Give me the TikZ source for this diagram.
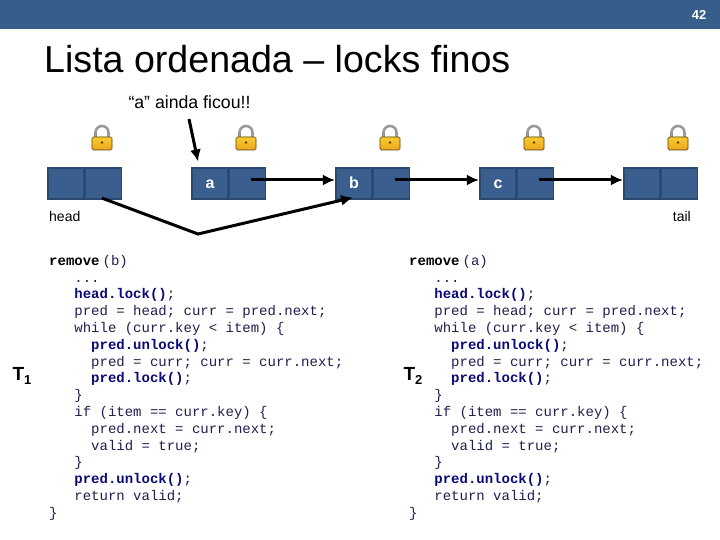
\documentclass[tikz,border=0pt]{standalone}
\usepackage{fontspec}
\setmainfont{Liberation Sans}
\setmonofont{Liberation Mono}
\usepackage{xcolor}
\usetikzlibrary{arrows.meta,positioning,calc}

\definecolor{slideblue}{RGB}{55,93,138}
\definecolor{cellblue}{RGB}{58,95,142}
\definecolor{celledge}{RGB}{42,72,112}
\definecolor{lockgold}{RGB}{250,205,50}
\definecolor{lockorange}{RGB}{235,165,25}
\definecolor{lockdark}{RGB}{90,60,10}
\definecolor{codenavy}{RGB}{10,10,120}
\definecolor{codegray}{RGB}{30,30,80}

\newcommand{\indA}{\hspace*{25.2pt}}
\newcommand{\indB}{\hspace*{42pt}}
\newcommand{\kw}[1]{\textcolor{codenavy}{\bfseries #1}}
\newcommand{\removecode}[1]{%
  \textcolor{black}{\bfseries remove}\hspace{3pt}(#1)\\
  \indA...\\
  \indA\kw{head.lock()};\\
  \indA pred = head; curr = pred.next;\\
  \indA while (curr.key < item) \{\\
  \indB\kw{pred.unlock()};\\
  \indB pred = curr; curr = curr.next;\\
  \indB\kw{pred.lock()};\\
  \indA\}\\
  \indA if (item == curr.key) \{\\
  \indB pred.next = curr.next;\\
  \indB valid = true;\\
  \indA\}\\
  \indA\kw{pred.unlock()};\\
  \indA return valid;\\
  \}}

\begin{document}
\begin{tikzpicture}[
    x=1pt,y=-1pt,
    >={Latex[length=12pt,width=11pt]},
    link/.style={->,line width=3pt,draw=black},
    cellbox/.style={draw=celledge,fill=cellblue,line width=1.6pt,
      minimum width=36.5pt,minimum height=31.5pt,inner sep=0pt,
      text height=11pt,text depth=0pt,
      text=white,font=\fontsize{16}{18}\selectfont\bfseries},
    code/.style={anchor=north west,align=left,inner sep=0pt,text=codegray,
      font=\fontsize{14}{16.8}\ttfamily},
    caption/.style={inner sep=0pt,font=\fontsize{14}{16}\selectfont},
    threadname/.style={inner sep=0pt,font=\fontsize{19}{21}\selectfont\bfseries},
    lockpic/.pic={
      \draw[draw=gray!80,line width=2.6pt] (-6.5,5) -- (-6.5,-0.5)
        arc[start angle=180,end angle=360,radius=6.5] -- (6.5,5);
      \draw[draw=lockdark,top color=lockgold,bottom color=lockorange,line width=0.7pt,rounded corners=1.5pt]
        (-10,4) rectangle (10,17);
      \fill[lockdark] (0,9.5) circle[radius=1.3];
    }
  ]
    \useasboundingbox (0,0) rectangle (720,540);
    \fill[slideblue] (0,0) rectangle (720,29);
    \node[inner sep=0pt,text=white,font=\fontsize{13}{15}\selectfont\bfseries] (pagenum) at (699,14.5) {42};
    \node[anchor=west,inner sep=0pt,font=\fontsize{37.6}{40}\selectfont] (title) at (44,59) {Lista ordenada -- locks finos};
    \node[inner sep=0pt,font=\fontsize{17.7}{20}\selectfont] (remark) at (189.5,102) {“a” ainda ficou!!};

    % locks
    \pic at (102,133) {lockpic};
    \pic at (246,133) {lockpic};
    \pic at (390,133) {lockpic};
    \pic at (534,133) {lockpic};
    \pic at (678,133) {lockpic};

    % list nodes
    \node[cellbox] (headkey) at (66,183.5) {};
    \node[cellbox,right=-0.8pt of headkey] (headnext) {};
    \node[cellbox] (akey) at (210,183.5) {a};
    \node[cellbox,right=-0.8pt of akey] (anext) {};
    \node[cellbox] (bkey) at (354,183.5) {b};
    \node[cellbox,right=-0.8pt of bkey] (bnext) {};
    \node[cellbox] (ckey) at (498,183.5) {c};
    \node[cellbox,right=-0.8pt of ckey] (cnext) {};
    \node[cellbox] (tailkey) at (642,183.5) {};
    \node[cellbox,right=-0.8pt of tailkey] (tailnext) {};

    \node[caption,anchor=west] (headname) at (49,216) {head};
    \node[caption,anchor=east] (tailname) at (691,216) {tail};

    % links
    \coordinate (bend) at (198,234);
    \coordinate (remarkstart) at (189,119);
    \draw[link] ([shift={(4,-3.5)}]anext.center) -- (bkey.west |- 0,180);
    \draw[link] ([shift={(4,-3.5)}]bnext.center) -- (ckey.west |- 0,180);
    \draw[link] ([shift={(4,-3.5)}]cnext.center) -- (tailkey.west |- 0,180);
    \draw[link] ([shift={(-1.5,-2)}]headnext.south) -- (bend) -- ([shift={(-1,14)}]bkey.center);
    \draw[link] (remarkstart) -- ([shift={(-12,-22)}]akey.center);

    % threads
    \node[threadname] (tone) at (22,376) {T\raisebox{-4pt}{\fontsize{13}{13}\selectfont 1}};
    \node[threadname] (ttwo) at (413,376) {T\raisebox{-4pt}{\fontsize{13}{13}\selectfont 2}};
    \node[code] (codeone) at (49,255) {\removecode{b}};
    \node[code] (codetwo) at (409,255) {\removecode{a}};
\end{tikzpicture}
\end{document}
